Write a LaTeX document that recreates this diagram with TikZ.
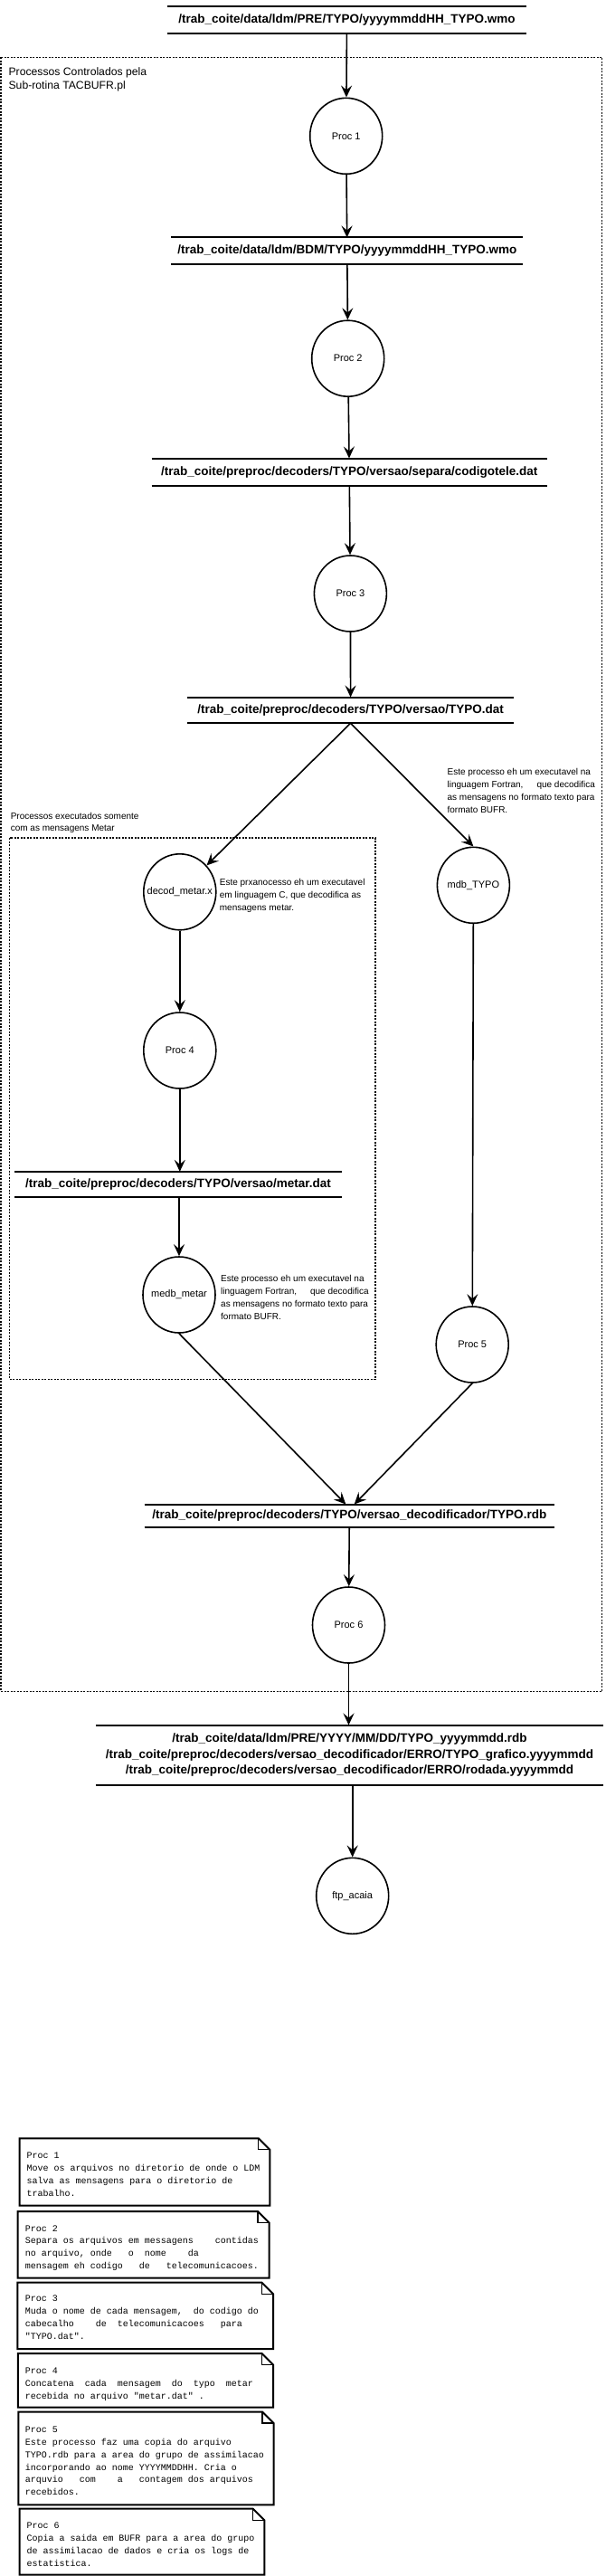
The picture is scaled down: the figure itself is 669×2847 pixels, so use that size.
\documentclass[tikz,border=0pt]{standalone}
\usepackage{fontspec}
\setmainfont{Liberation Sans}
\setmonofont{Liberation Mono}
\usetikzlibrary{shapes.geometric,arrows.meta}
\newcommand\drawnote[4]{%
  \draw[notebox] (#1,#2) -- ({#3-12.5},#2) -- (#3,{#2+12.5}) -- (#3,#4) -- (#1,#4) -- cycle;
  \draw[line width=1.3pt] ({#3-12.5},#2) -- ({#3-12.5},{#2+12.5}) -- (#3,{#2+12.5});
}
\newcommand\plabel[1]{\makebox[40pt][c]{#1}}
\begin{document}
\begin{tikzpicture}[x=1pt,y=-1pt,
  proc/.style={ellipse, draw, line width=1.6pt, minimum width=80pt, minimum height=84pt, inner sep=0pt, font=\fontsize{11}{13}\selectfont},
  store/.style={inner sep=0pt, font=\bfseries\fontsize{13.5}{17.7}\selectfont, align=center},
  sepline/.style={line width=2pt},
  arr/.style={line width=1.6pt, -{Stealth[length=13pt,width=12pt,inset=5pt]}},
  frame/.style={line width=1.5pt, dash pattern=on 2pt off 1.5pt},
  notebox/.style={line width=2pt, line join=miter},
  notetext/.style={anchor=base west, inner sep=0pt, font=\ttfamily\fontsize{10}{13.9}\selectfont},
  ann/.style={anchor=base west, inner sep=0pt, font=\fontsize{10}{14}\selectfont},
]
\useasboundingbox (0,0) rectangle (669,2847);

% frames
\draw[frame] (1,63.3) rectangle (665.5,1869.3);
\draw[frame] (10.7,926) rectangle (415.2,1524.3);
\node[anchor=base west, inner sep=0pt, font=\fontsize{12.2}{15}\selectfont] (lblout) at (9.4,83.5)
  {\begin{tabular}[t]{@{}l@{}}Processos Controlados pela\\Sub-rotina TACBUFR.pl\end{tabular}};
\node[anchor=base west, inner sep=0pt, font=\fontsize{10}{13.6}\selectfont] (lblin) at (11.6,905)
  {\begin{tabular}[t]{@{}l@{}}Processos executados somente\\com as mensagens Metar\end{tabular}};

% stores
\node[store, minimum width=397pt, minimum height=29.4pt] (s1) at (383.5,22) {/trab\_coite/data/ldm/PRE/TYPO/yyyymmddHH\_TYPO.wmo};
\node[store, minimum width=388.4pt, minimum height=29pt] (s2) at (383.8,277.2) {/trab\_coite/data/ldm/BDM/TYPO/yyyymmddHH\_TYPO.wmo};
\node[store, minimum width=436.7pt, minimum height=30pt] (s3) at (386.2,521.7) {/trab\_coite/preproc/decoders/TYPO/versao/separa/codigotele.dat};
\node[store, minimum width=360.8pt, minimum height=28.3pt] (s4) at (387.6,784.9) {/trab\_coite/preproc/decoders/TYPO/versao/TYPO.dat};
\node[store, minimum width=362pt, minimum height=27.3pt] (s5) at (197,1308.7) {/trab\_coite/preproc/decoders/TYPO/versao/metar.dat};
\node[store, minimum width=453pt, minimum height=24.6pt] (s6) at (386.3,1675) {/trab\_coite/preproc/decoders/TYPO/versao\_decodificador/TYPO.rdb};
\node[store, minimum width=561pt, minimum height=66pt] (s7) at (386.5,1939.7) {/trab\_coite/data/ldm/PRE/YYYY/MM/DD/TYPO\_yyyymmdd.rdb\\/trab\_coite/preproc/decoders/versao\_decodificador/ERRO/TYPO\_grafico.yyyymmdd\\/trab\_coite/preproc/decoders/versao\_decodificador/ERRO/rodada.yyyymmdd};
\foreach \s in {s1,s2,s3,s4,s5,s6,s7}{
  \draw[sepline] (\s.north west) -- (\s.north east) (\s.south west) -- (\s.south east);
}

% processes
\node[proc] (p1) at (382.7,150.3) {\plabel{Proc 1}};
\node[proc] (p2) at (384.7,396.2) {\plabel{Proc 2}};
\node[proc] (p3) at (387.4,656) {\plabel{Proc 3}};
\node[proc] (dm) at (198.8,985.8) {\plabel{decod\_metar.x}};
\node[proc] (p4) at (198.8,1161) {\plabel{Proc 4}};
\node[proc] (mdb) at (523.4,978.3) {\plabel{mdb\_TYPO}};
\node[proc] (medb) at (198,1431) {\plabel{medb\_metar}};
\node[proc] (p5) at (522.2,1486) {\plabel{Proc 5}};
\node[proc] (p6) at (385.5,1796) {\plabel{Proc 6}};
\node[proc] (ftp) at (389.7,2095.3) {\plabel{ftp\_acaia}};

% annotations
\node[ann] (a1) at (494.4,856.7) {\begin{tabular}[t]{@{}l@{}}Este processo eh um executavel na\\linguagem Fortran,\hspace{15pt}que decodifica\\as mensagens no formato texto para\\formato BUFR.\end{tabular}};
\node[ann] (a2) at (242.7,978.3) {\begin{tabular}[t]{@{}l@{}}Este prxanocesso eh um executavel\\em linguagem C, que decodifica as\\mensagens metar.\end{tabular}};
\node[ann] (a3) at (244,1416) {\begin{tabular}[t]{@{}l@{}}Este processo eh um executavel na\\linguagem Fortran,\hspace{15pt}que decodifica\\as mensagens no formato texto para\\formato BUFR.\end{tabular}};

% connectors
\draw[arr] (s1) -- (p1);
\draw[arr] (p1) -- (s2);
\draw[arr] (s2) -- (p2);
\draw[arr] (p2) -- (s3);
\draw[arr] (s3) -- (p3);
\draw[arr] (p3) -- (s4);
\draw[arr] (s4.south) -- (dm);
\draw[arr] (s4.south) -- (mdb.north);
\draw[arr] (dm) -- (p4);
\draw[arr] (p4) -- (s5.north -| p4);
\draw[arr] (s5.south -| medb) -- (medb);
\draw[arr] (mdb) -- (p5);
\draw[arr] (medb.south) -- ([xshift=-4pt]s6.north);
\draw[arr] (p5.south) -- ([xshift=5.4pt]s6.north);
\draw[arr] (s6) -- (p6);
\draw[arr] (p6) -- (s7.north -| p6);
\draw[arr] (s7.south -| ftp) -- (ftp);

% notes
\drawnote{21.7}{2363.3}{298.3}{2437.7}
\node[notetext] (n1) at (29.3,2385.7) {\begin{tabular}[t]{@{}l@{}}Proc 1\\Move os arquivos no diretorio de onde o LDM\\salva as mensagens para o diretorio de\\trabalho.\end{tabular}};
\drawnote{19.5}{2444}{297.5}{2517.5}
\node[notetext] (n2) at (27.7,2466) {\begin{tabular}[t]{@{}l@{}}Proc 2\\Separa os arquivos em messagens~~~~contidas\\no arquivo, onde~~~o~~nome~~~~da\\mensagem eh codigo~~~de~~~telecomunicacoes.\end{tabular}};
\drawnote{19.3}{2522.7}{302}{2596}
\node[notetext] (n3) at (27.7,2543.7) {\begin{tabular}[t]{@{}l@{}}Proc 3\\Muda o nome de cada mensagem,~~do~codigo~do\\cabecalho~~~~de~~telecomunicacoes~~~para\\"TYPO.dat".\end{tabular}};
\drawnote{19.8}{2601}{302}{2660.5}
\node[notetext] (n4) at (27.7,2623.3) {\begin{tabular}[t]{@{}l@{}}Proc 4\\Concatena~~cada~~mensagem~~do~~typo~~metar\\recebida no arquivo "metar.dat" .\end{tabular}};
\drawnote{20.3}{2665.5}{302.5}{2768.3}
\node[notetext] (n5) at (27.7,2688.3) {\begin{tabular}[t]{@{}l@{}}Proc 5\\Este processo faz uma copia do arquivo\\TYPO.rdb para a area do grupo de assimilacao\\incorporando ao nome YYYYMMDDHH. Cria o\\arquvio~~~com~~~~a~~~contagem dos arquivos\\recebidos.\end{tabular}};
\drawnote{21.7}{2772.7}{292.3}{2845.5}
\node[notetext] (n6) at (29.3,2794.3) {\begin{tabular}[t]{@{}l@{}}Proc 6\\Copia a saida em BUFR para a area do grupo\\de assimilacao de dados e cria os logs de\\estatistica.\end{tabular}};
\end{tikzpicture}
\end{document}
